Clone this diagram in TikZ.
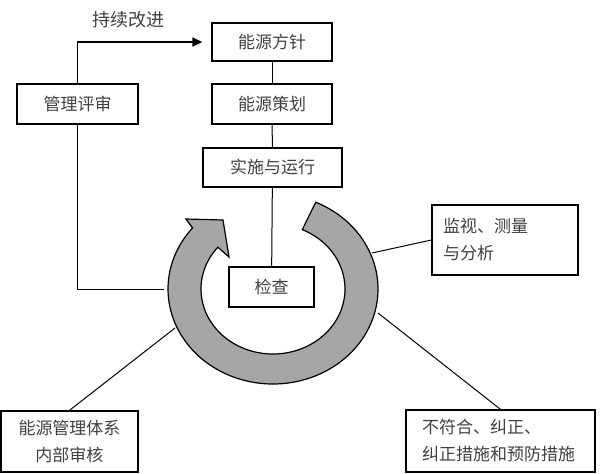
\documentclass[tikz,border=0pt]{standalone}
\usepackage{fontspec}
\setmainfont{Noto Sans CJK SC}
\usetikzlibrary{arrows.meta,calc}

\begin{document}
\begin{tikzpicture}[x=1pt, y=-1pt,
    box/.style={draw=black, line width=1.3pt, inner sep=0pt, text=black!75, font=\fontsize{17}{20}\selectfont},
    notebox/.style={box, font=\fontsize{17}{27}\selectfont},
    link/.style={line width=1pt, black},
    ring/.style={fill=black!35, draw=black, line width=1.2pt}]
  \useasboundingbox (0,0) rectangle (600,474);
  % ---------------- main chain ----------------
  \node[box, minimum width=120pt, minimum height=38pt] (fangzhen) at (272,42) {能源方针};
  \node[box, minimum width=120pt, minimum height=40pt] (cehua) at (272,104) {能源策划};
  \node[box, minimum width=139pt, minimum height=39pt] (yunxing) at (272.5,167.5) {实施与运行};
  \node[box, minimum width=85pt, minimum height=40pt] (jiancha) at (271.5,287) {检查};
  \node[box, minimum width=121pt, minimum height=40pt] (pingshen) at (77.5,104) {管理评审};
  \node[text=black!75, font=\fontsize{18}{20}\selectfont] (gaijin) at (128,20) {持续改进};
  % ---------------- side notes ----------------
  \node[notebox, minimum width=146pt, minimum height=70pt, text width=124pt, align=left] (jianshi) at (505,240) {监视、测量\\与分析};
  \node[notebox, minimum width=137pt, minimum height=61pt, align=center] (shenhe) at (69.5,441.5) {能源管理体系\\内部审核};
  \node[notebox, minimum width=189pt, minimum height=62pt, text width=157pt, align=left] (buhege) at (500.5,441) {不符合、纠正、\\纠正措施和预防措施};
  % ---------------- ring arrow ----------------
  \coordinate (hub) at (273,289);
  \draw[ring] (hub) ++(-66:105 and 95) arc[start angle=-66, end angle=220, x radius=105, y radius=95]
    -- (186,219) -- (223,220) -- (229,257) -- ($(hub)+(220:72 and 65)$)
    arc[start angle=220, end angle=-66, x radius=72, y radius=65] -- cycle;
  \coordinate (ringW) at (164,289);
  \coordinate (ringE) at (372,253);
  \coordinate (ringSE) at (378,313);
  \coordinate (ringSW) at (175,328);
  % ---------------- connectors ----------------
  \draw[link] (fangzhen) -- (cehua);
  \draw[link] (cehua) -- (yunxing);
  \draw[link] (yunxing) -- (jiancha);
  \draw[link] (pingshen.south) |- (ringW);
  \draw[line width=1.6pt, -{Triangle[length=10pt,width=9pt]}, shorten >=9pt] (pingshen.north) |- (fangzhen.west);
  \draw[link] (jianshi.west) -- (ringE);
  \draw[link] (buhege.north) -- (ringSE);
  \draw[link] (shenhe.north) -- (ringSW);
\end{tikzpicture}
\end{document}
